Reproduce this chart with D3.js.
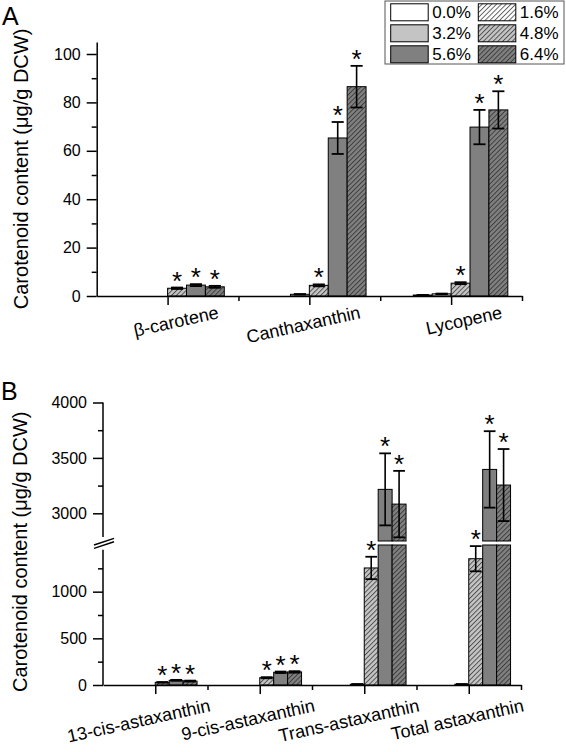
<!DOCTYPE html>
<html><head><meta charset="utf-8">
<script src="https://cdn.jsdelivr.net/npm/d3@7/dist/d3.min.js"></script>
<style>
body{margin:0;background:#fff;}
text{font-family:"Liberation Sans",Arial,Helvetica,sans-serif;fill:#000;}
</style></head>
<body>
<svg id="chart" width="566" height="752"></svg>
<script>
// ---------- DATA ----------
const seriesNames = ["0.0%","1.6%","3.2%","4.8%","5.6%","6.4%"];
const seriesFill  = ["#ffffff","#ffffff","#c4c4c4","#c4c4c4","#808080","#808080"];
const seriesHatch = [false,true,false,true,false,true];

const categoriesA = ["β-carotene","Canthaxanthin","Lycopene"];
const betaCarotene   = [0, 0, 0, 3.2, 4.5, 3.8];
const canthaxanthin  = [0, 0, 0.7, 4.4, 65.3, 86.5];
const lycopene       = [0, 0.4, 0.9, 5.3, 69.8, 76.9];
const betaCaroteneErr  = [0, 0, 0, 0.3, 0.4, 0.4];
const canthaxanthinErr = [0, 0, 0.1, 0.4, 6.6, 8.6];
const lycopeneErr      = [0, 0.05, 0.1, 0.4, 7.1, 7.7];
const starsA = [[3,4,5],[3,4,5],[3,4,5]];
const yTicksA = [0,20,40,60,80,100];
const yMinorA = [10,30,50,70,90];

const categoriesB = ["13-cis-astaxanthin","9-cis-astaxanthin","Trans-astaxanthin","Total astaxanthin"];
const cis13   = [0, 0, 0, 28, 50, 42];
const cis9    = [0, 0, 0, 78, 136, 140];
const trans   = [0, 0, 8, 1254, 3216, 3083];
const total   = [0, 0, 8, 1353, 3396, 3255];
const cis13Err = [0, 0, 0, 4, 5, 5];
const cis9Err  = [0, 0, 0, 6, 8, 8];
const transErr = [0, 0, 1, 120, 325, 300];
const totalErr = [0, 0, 1, 135, 345, 325];
const starsB = [[3,4,5],[3,4,5],[3,4,5],[3,4,5]];
const yTicksBLow = [0,500,1000];
const yMinorBLow = [250,750,1250];
const yTicksBUp = [3000,3500,4000];
const yMinorBUp = [3250,3750];

const valuesA = [betaCarotene, canthaxanthin, lycopene];
const errsA = [betaCaroteneErr, canthaxanthinErr, lycopeneErr];
const valuesB = [cis13, cis9, trans, total];
const errsB = [cis13Err, cis9Err, transErr, totalErr];

// ---------- SETUP ----------
const svg = d3.select("#chart");
const defs = svg.append("defs");
seriesFill.forEach((c,i)=>{
  if(!seriesHatch[i]) return;
  const p = defs.append("pattern").attr("id","hatch"+i)
    .attr("patternUnits","userSpaceOnUse").attr("width",3.4).attr("height",3.4)
    .attr("patternTransform","rotate(45)");
  p.append("rect").attr("width",3.4).attr("height",3.4).attr("fill",c);
  p.append("line").attr("x1",0.5).attr("y1",0).attr("x2",0.5).attr("y2",3.4)
    .attr("stroke","#222").attr("stroke-width",0.7);
});
const fillOf = i => seriesHatch[i] ? `url(#hatch${i})` : seriesFill[i];
const fmt = d3.format("d");

function styleAxis(g, sw){
  g.selectAll("path.domain").attr("stroke","#000").attr("stroke-width",sw);
  g.selectAll(".tick line").attr("stroke","#000").attr("stroke-width",sw);
  g.selectAll(".tick text").style("font-family",'"Liberation Sans",Arial,sans-serif').style("font-size","16px").attr("fill","#000");
}
function star(g, x, yTop){
  g.append("text").attr("x",x).attr("y",yTop+2)
    .attr("text-anchor","middle").style("font-size","26px").text("*");
}

// ---------- PANEL A ----------
const xA = d3.scaleLinear().domain([0.5,3.5]).range([96.7,522]);
const yA = d3.scaleLinear().domain([0,105]).range([296,41.9]);
const bwA = 0.8*(xA(1)-xA(0))/6;

const gA = svg.append("g");
categoriesA.forEach((cat,ci)=>{
  const cx = xA(ci+1);
  valuesA[ci].forEach((v,si)=>{
    const x0 = cx - 3*bwA + si*bwA;
    if(v>0){
      gA.append("rect").attr("x",x0).attr("width",bwA)
        .attr("y",yA(v)).attr("height",yA(0)-yA(v))
        .attr("fill",fillOf(si)).attr("stroke","#000").attr("stroke-width",1);
    }
    const e = errsA[ci][si];
    if(e>0){
      const mx = x0+bwA/2, cw = bwA*0.32;
      gA.append("line").attr("x1",mx).attr("x2",mx).attr("y1",yA(v-e)).attr("y2",yA(v+e)).attr("stroke","#000").attr("stroke-width",1.6);
      gA.append("line").attr("x1",mx-cw).attr("x2",mx+cw).attr("y1",yA(v-e)).attr("y2",yA(v-e)).attr("stroke","#000").attr("stroke-width",1.8);
      gA.append("line").attr("x1",mx-cw).attr("x2",mx+cw).attr("y1",yA(v+e)).attr("y2",yA(v+e)).attr("stroke","#000").attr("stroke-width",1.8);
    }
    if(starsA[ci].includes(si)) star(gA, x0+bwA/2, yA(v+e));
  });
});
// axes A
const axAy = gA.append("g").attr("transform",`translate(${xA(0.5)},0)`)
  .call(d3.axisLeft(yA).tickValues(yTicksA).tickSize(10).tickSizeOuter(0).tickPadding(6).tickFormat(fmt));
styleAxis(axAy,1.5);
const axAym = gA.append("g").attr("transform",`translate(${xA(0.5)},0)`)
  .call(d3.axisLeft(yA).tickValues(yMinorA).tickSize(5).tickSizeOuter(0).tickFormat(""));
styleAxis(axAym,1.5); axAym.select("path.domain").remove();
const axAx = gA.append("g").attr("transform",`translate(0,${yA(0)})`)
  .call(d3.axisBottom(xA).tickValues([1,2,3]).tickSize(9).tickSizeOuter(0).tickFormat(""));
styleAxis(axAx,1.5);
const axAxm = gA.append("g").attr("transform",`translate(0,${yA(0)})`)
  .call(d3.axisBottom(xA).tickValues([1.5,2.5,3.5]).tickSize(5).tickSizeOuter(0).tickFormat(""));
styleAxis(axAxm,1.5); axAxm.select("path.domain").remove();
categoriesA.forEach((cat,ci)=>{
  const x = xA(ci+1)+52, y = yA(0)+22;
  gA.append("text").attr("transform",`translate(${x},${y}) rotate(-12.5)`)
    .attr("text-anchor","end").style("font-size","18px").text(cat);
});
gA.append("text").attr("transform",`translate(28,${(yA(0)+yA(105))/2}) rotate(-90)`)
  .attr("text-anchor","middle").style("font-size","20px").text("Carotenoid content (μg/g DCW)");
gA.append("text").attr("x",2).attr("y",25).style("font-size","25px").text("A");

// legend
const lg = svg.append("g");
lg.append("rect").attr("x",385).attr("y",1).attr("width",179).attr("height",63)
  .attr("fill","#fff").attr("stroke","#555").attr("stroke-width",1);
seriesNames.forEach((nm,i)=>{
  const row = Math.floor(i/2), col = i%2;
  const sx = col===0 ? 390.7 : 478.3;
  const sy = 3.8 + row*21;
  lg.append("rect").attr("x",sx).attr("y",sy).attr("width",37.5).attr("height",17)
    .attr("fill",fillOf(i)).attr("stroke","#000").attr("stroke-width",1);
  lg.append("text").attr("x",sx+41.5).attr("y",sy+14.5).style("font-size","17px").text(nm);
});

// ---------- PANEL B ----------
const xB = d3.scaleLinear().domain([0.5,4.5]).range([103,521]);
const yLow = d3.scaleLinear().domain([0,1500]).range([685,545]);
const yUp  = d3.scaleLinear().domain([2750,4000]).range([541,402.5]);
const yB = v => v<=1500 ? yLow(v) : yUp(v);
const bwB = 0.8*(xB(1)-xB(0))/6;

const gB = svg.append("g");
categoriesB.forEach((cat,ci)=>{
  const cx = xB(ci+1);
  valuesB[ci].forEach((v,si)=>{
    const x0 = cx - 3*bwB + si*bwB;
    if(v>0){
      const vl = Math.min(v,1500);
      gB.append("rect").attr("x",x0).attr("width",bwB)
        .attr("y",yLow(vl)).attr("height",yLow(0)-yLow(vl))
        .attr("fill",fillOf(si)).attr("stroke","#000").attr("stroke-width",1);
      if(v>2750){
        gB.append("rect").attr("x",x0).attr("width",bwB)
          .attr("y",yUp(v)).attr("height",yUp(2750)-yUp(v))
          .attr("fill",fillOf(si)).attr("stroke","#000").attr("stroke-width",1);
      }
    }
    const e = errsB[ci][si];
    if(e>0){
      const mx = x0+bwB/2, cw = bwB*0.42;
      gB.append("line").attr("x1",mx).attr("x2",mx).attr("y1",yB(v-e)).attr("y2",yB(v+e)).attr("stroke","#000").attr("stroke-width",1.6);
      gB.append("line").attr("x1",mx-cw).attr("x2",mx+cw).attr("y1",yB(v-e)).attr("y2",yB(v-e)).attr("stroke","#000").attr("stroke-width",1.8);
      gB.append("line").attr("x1",mx-cw).attr("x2",mx+cw).attr("y1",yB(v+e)).attr("y2",yB(v+e)).attr("stroke","#000").attr("stroke-width",1.8);
    }
    if(starsB[ci].includes(si)) star(gB, x0+bwB/2, yB(v+e));
  });
});
// axes B
const axL = gB.append("g").attr("transform",`translate(${xB(0.5)},0)`)
  .call(d3.axisLeft(yLow).tickValues(yTicksBLow).tickSize(10).tickSizeOuter(0).tickPadding(6).tickFormat(fmt));
styleAxis(axL,1.5); axL.select("path.domain").remove();
const axLm = gB.append("g").attr("transform",`translate(${xB(0.5)},0)`)
  .call(d3.axisLeft(yLow).tickValues(yMinorBLow).tickSize(5).tickFormat(""));
styleAxis(axLm,1.5); axLm.select("path.domain").remove();
const axU = gB.append("g").attr("transform",`translate(${xB(0.5)},0)`)
  .call(d3.axisLeft(yUp).tickValues(yTicksBUp).tickSize(10).tickSizeOuter(0).tickPadding(6).tickFormat(fmt));
styleAxis(axU,1.5); axU.select("path.domain").remove();
const axUm = gB.append("g").attr("transform",`translate(${xB(0.5)},0)`)
  .call(d3.axisLeft(yUp).tickValues(yMinorBUp).tickSize(5).tickFormat(""));
styleAxis(axUm,1.5); axUm.select("path.domain").remove();
// y axis line segments with break
gB.append("line").attr("x1",xB(0.5)).attr("x2",xB(0.5)).attr("y1",yLow(0)).attr("y2",yLow(1450)).attr("stroke","#000").attr("stroke-width",1.5);
gB.append("line").attr("x1",xB(0.5)).attr("x2",xB(0.5)).attr("y1",yUp(2785)).attr("y2",yUp(4000)).attr("stroke","#000").attr("stroke-width",1.5);
const midBreak = (yLow(1450)+yUp(2785))/2;
[-1.7,1.7].forEach(off=>{
  gB.append("line").attr("x1",xB(0.5)-9).attr("x2",xB(0.5)+11)
    .attr("y1",midBreak+off+3.3).attr("y2",midBreak+off-3.3)
    .attr("stroke","#000").attr("stroke-width",1.5);
});
const axBx = gB.append("g").attr("transform",`translate(0,${yLow(0)})`)
  .call(d3.axisBottom(xB).tickValues([1,2,3,4]).tickSize(9).tickSizeOuter(0).tickFormat(""));
styleAxis(axBx,1.5);
const axBxm = gB.append("g").attr("transform",`translate(0,${yLow(0)})`)
  .call(d3.axisBottom(xB).tickValues([1.5,2.5,3.5,4.5]).tickSize(5).tickSizeOuter(0).tickFormat(""));
styleAxis(axBxm,1.5); axBxm.select("path.domain").remove();
categoriesB.forEach((cat,ci)=>{
  const x = xB(ci+1)+56, y = yLow(0)+26;
  gB.append("text").attr("transform",`translate(${x},${y}) rotate(-12.5)`)
    .attr("text-anchor","end").style("font-size","18px").text(cat);
});
gB.append("text").attr("transform",`translate(27,${(yLow(0)+yUp(4000))/2+8}) rotate(-90)`)
  .attr("text-anchor","middle").style("font-size","20px").text("Carotenoid content (μg/g DCW)");
gB.append("text").attr("x",1).attr("y",400).style("font-size","25px").text("B");
</script>
</body></html>
